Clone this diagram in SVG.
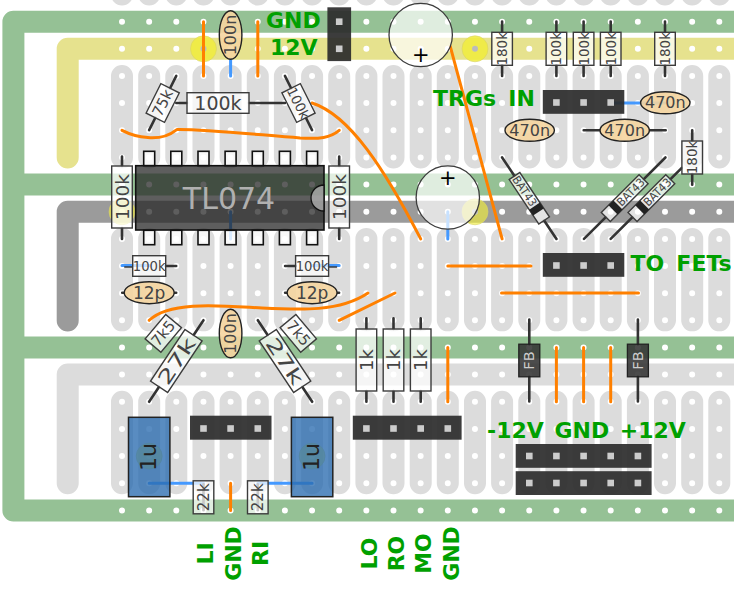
<svg xmlns="http://www.w3.org/2000/svg" width="734" height="589" viewBox="0 0 734 589">
<style>
text{font-family:"DejaVu Sans",Verdana,sans-serif}
.bus{fill:none;stroke-width:22;stroke-linejoin:round;stroke-linecap:round}
.strips line{stroke:#dcdcdc;stroke-width:22;stroke-linecap:round;stroke-dasharray:81.45 81.45}
.holes{stroke:#fff;stroke-width:6;stroke-linecap:round;stroke-dasharray:0 27.15;fill:none}
.disc{fill:#f0ec3c;fill-opacity:.65;stroke:#d8d46a;stroke-width:.6}
.dot{fill:#bbb}
.w{fill:none;stroke-width:3;stroke-linecap:round}
.o{stroke:#ff8000}
.b{stroke:#4499ff}
.lead{fill:none;stroke:#333;stroke-width:2.6;stroke-linecap:round}
.rb{fill:#fff;fill-opacity:.72;stroke:#3c3c3c;stroke-width:1.4}
.rt{fill:#444;text-anchor:middle;dominant-baseline:central}
.cer{fill:#f5d5a0;fill-opacity:.9;stroke:#222;stroke-width:1.4}
.elec{fill:#fff;fill-opacity:.7;stroke:#3c3c3c;stroke-width:1.3}
.film{fill:#2a6cb0;fill-opacity:.78;stroke:#222;stroke-width:1.5}
.fb{fill:#333;fill-opacity:.88;stroke:#222;stroke-width:1.3}
.hdr{fill:#2b2b2b;fill-opacity:.92}
.pin{fill:#ccc}
.lab{fill:#00a000;font-weight:bold;font-size:22px;word-spacing:4.5px}
.labv{text-anchor:middle}
</style>
<defs>
<rect id="p" class="pin" x="-3.3" y="-3.3" width="6.6" height="6.6"/>
<rect id="dip" x="-5.5" y="-7.2" width="11" height="14.4" fill="#fff" fill-opacity=".8" stroke="#111" stroke-width="1.6"/>
</defs>
<rect width="734" height="589" fill="#fff"/>
<g id="board">
<path class="bus" stroke="#e6e28e" d="M745 48.8H67.7V157.5"/>
<path class="bus" stroke="#9b9b9b" d="M745 211.8H67.7V320.4"/>
<path class="bus" stroke="#dcdcdc" d="M745 374.6H67.7V483.2"/>
<path class="bus" stroke="#95c195" d="M745 21.7H13.4V510.4H745M13.4 184.6H745M13.4 347.5H745"/>
<g class="strips">
<line x1="122" x2="122" y1="-86.9" y2="483.3"/><line x1="149.2" x2="149.2" y1="-86.9" y2="483.3"/><line x1="176.3" x2="176.3" y1="-86.9" y2="483.3"/><line x1="203.5" x2="203.5" y1="-86.9" y2="483.3"/><line x1="230.6" x2="230.6" y1="-86.9" y2="483.3"/><line x1="257.8" x2="257.8" y1="-86.9" y2="483.3"/><line x1="284.9" x2="284.9" y1="-86.9" y2="483.3"/><line x1="312.1" x2="312.1" y1="-86.9" y2="483.3"/><line x1="339.2" x2="339.2" y1="-86.9" y2="483.3"/><line x1="366.4" x2="366.4" y1="-86.9" y2="483.3"/><line x1="393.5" x2="393.5" y1="-86.9" y2="483.3"/><line x1="420.7" x2="420.7" y1="-86.9" y2="483.3"/><line x1="447.8" x2="447.8" y1="-86.9" y2="483.3"/><line x1="475" x2="475" y1="-86.9" y2="483.3"/><line x1="502.1" x2="502.1" y1="-86.9" y2="483.3"/><line x1="529.3" x2="529.3" y1="-86.9" y2="483.3"/><line x1="556.4" x2="556.4" y1="-86.9" y2="483.3"/><line x1="583.6" x2="583.6" y1="-86.9" y2="483.3"/><line x1="610.7" x2="610.7" y1="-86.9" y2="483.3"/><line x1="637.9" x2="637.9" y1="-86.9" y2="483.3"/><line x1="665" x2="665" y1="-86.9" y2="483.3"/><line x1="692.2" x2="692.2" y1="-86.9" y2="483.3"/><line x1="719.3" x2="719.3" y1="-86.9" y2="483.3"/>
</g>
<path class="holes" d="M122 21.7H720M122 48.8H720M122 76H720M122 103H720M122 130.3H720M122 157.5H720M122 184.6H720M122 211.8H720M122 238.9H720M122 266H720M122 293.2H720M122 320.3H720M122 347.5H720M122 374.6H720M122 401.8H720M122 428.9H720M122 456.1H720M122 483.2H720M122 510.4H720"/>
<circle class="disc" cx="203.5" cy="48.8" r="13" style="fill-opacity:.85"/><circle class="dot" cx="203.5" cy="48.8" r="3"/>
<circle class="disc" cx="475" cy="48.8" r="13" style="fill-opacity:.85"/><circle class="dot" cx="475" cy="48.8" r="3"/>
<circle class="disc" cx="122" cy="211.8" r="13"/>
<circle class="disc" cx="475" cy="211.8" r="13"/><circle class="dot" cx="475" cy="211.8" r="3"/>
<circle class="disc" cx="149.2" cy="456.1" r="13"/>
<circle class="disc" cx="312.1" cy="456.1" r="13"/>
</g>
<g id="connectors">
<path class="w o" d="M203.5 21.7V76M257.8 21.7V76M447.8 347.5V401.8M556.4 347.5V401.8M583.6 347.5V401.8M610.7 347.5V401.8M230.6 483.2V510.4"/>
<path class="w o" d="M122 130.3C135 137 160 143 175.7 130.3"/>
<path class="w o" d="M177 129.5C205 129 260 135 300 138C320 139 330 138 339.2 130.3"/>
<path class="w o" d="M312 103C350 115 385 170 420.7 238.9"/>
<path class="w o" d="M450.3 46.7L502.1 238.9"/>
<path class="w o" d="M447.8 266H531M501.5 293H638.5"/>
<path class="w o" d="M149.2 320.3C170 300 225 306 262 308C300 310 340 312 368 293"/>
<path class="w o" d="M339.2 320.3L395 293"/>
<path class="w b" d="M230.6 59V76M230.6 211.8V238.9M447.8 211.8V238.9M122 265.5H149.2M312.1 265.5H339.2M610.7 103H665M149.2 483.2H203.5M257.8 483.2H312.1"/>
</g>
<g id="cap-top"><circle class="elec" cx="420.7" cy="35" r="31.7"/><text x="420.7" y="62" font-size="21" text-anchor="middle">+</text></g>
<g id="cap-mid"><circle class="elec" cx="447.8" cy="197.5" r="31.7"/><text x="447.8" y="185" font-size="21" text-anchor="middle">+</text></g>
<g id="c100n-top" transform="translate(230.6 35) rotate(-90)"><ellipse class="cer" rx="24.3" ry="11.3"/><text class="rt" font-size="16">100n</text></g>
<g id="c100n-low" transform="translate(230.6 333.5) rotate(-90)"><ellipse class="cer" rx="24.3" ry="11.3"/><text class="rt" font-size="16">100n</text></g>
<g id="c12p-l" transform="translate(149.2 292.7)"><path class="lead" d="M-27 0H-25M25 0H27"/><ellipse class="cer" rx="25" ry="11"/><text class="rt" font-size="17">12p</text></g>
<g id="c12p-r" transform="translate(312.1 292.7)"><path class="lead" d="M-27 0H-25M25 0H27"/><ellipse class="cer" rx="25" ry="11"/><text class="rt" font-size="17">12p</text></g>
<g id="c470n-a" transform="translate(665.3 102.8)"><ellipse class="cer" rx="24.7" ry="11"/><text class="rt" font-size="16">470n</text></g>
<g id="c470n-b" transform="translate(529.7 130.3)"><ellipse class="cer" rx="24.7" ry="11"/><text class="rt" font-size="16">470n</text></g>
<g id="c470n-c" transform="translate(624.7 130.3)"><path class="lead" d="M-41 0H-24.7M24.7 0H41"/><ellipse class="cer" rx="24.7" ry="11"/><text class="rt" font-size="16">470n</text></g>
<g id="ic-tl074">
<use href="#dip" x="149.2" y="158.5"/><use href="#dip" x="176.3" y="158.5"/><use href="#dip" x="203.5" y="158.5"/><use href="#dip" x="230.6" y="158.5"/><use href="#dip" x="257.8" y="158.5"/><use href="#dip" x="284.9" y="158.5"/><use href="#dip" x="312.1" y="158.5"/>
<use href="#dip" x="149.2" y="237.5"/><use href="#dip" x="176.3" y="237.5"/><use href="#dip" x="203.5" y="237.5"/><use href="#dip" x="230.6" y="237.5"/><use href="#dip" x="257.8" y="237.5"/><use href="#dip" x="284.9" y="237.5"/><use href="#dip" x="312.1" y="237.5"/>
<rect x="135.7" y="165.7" width="188.3" height="64.3" fill="#262626" fill-opacity=".74" stroke="#111" stroke-width="1.6"/>
<path d="M324 185A13 13 0 0 0 324 211Z" fill="#b5b5b5" fill-opacity=".75" stroke="#111" stroke-width="1.3"/>
<text x="229" y="208.7" font-size="30" fill="#b0b0b0" text-anchor="middle">TL074</text>
</g>
<g id="r75k" transform="translate(162.7 103) rotate(-63.4)"><path class="lead" d="M-30.3 0H-16.5M16.5 0H30.3"/><rect class="rb" x="-16.5" y="-10.3" width="33" height="20.6"/><text class="rt" font-size="15">75k</text></g>
<g id="r100k-h" transform="translate(218 103)"><path class="lead" d="M-41.7 0H-31M31 0H67"/><rect class="rb" x="-31" y="-10.3" width="62" height="20.6"/><text class="rt" font-size="19">100k</text></g>
<g id="r100k-d" transform="translate(298.5 103) rotate(63.4)"><path class="lead" d="M-30.3 0H-16.5M16.5 0H30.3"/><rect class="rb" x="-16.5" y="-10.3" width="33" height="20.6"/><text class="rt" font-size="13.5">100k</text></g>
<g id="r100k-vl" transform="translate(122 197) rotate(-90)"><path class="lead" d="M-42 0H-31M31 0H40.5"/><rect class="rb" x="-31" y="-10.3" width="62" height="20.6"/><text class="rt" font-size="18.5">100k</text></g>
<g id="r100k-vr" transform="translate(339.2 197) rotate(-90)"><path class="lead" d="M-42 0H-31M31 0H40.5"/><rect class="rb" x="-31" y="-10.3" width="62" height="20.6"/><text class="rt" font-size="18.5">100k</text></g>
<g id="r100k-sl" transform="translate(149.2 266)"><path class="lead" d="M16.5 0H27"/><path d="M-25 1H-16.5" stroke="#333" stroke-width="1.4"/><rect class="rb" x="-16.5" y="-10.3" width="33" height="20.6"/><text class="rt" font-size="13.2">100k</text></g>
<g id="r100k-sr" transform="translate(312.1 266)"><path class="lead" d="M-27 0H-16.5"/><path d="M16.5 1H25" stroke="#333" stroke-width="1.4"/><rect class="rb" x="-16.5" y="-10.3" width="33" height="20.6"/><text class="rt" font-size="13.2">100k</text></g>
<g id="r180k-a" transform="translate(502.1 48.8) rotate(-90)"><path class="lead" d="M-27.2 0H-16.5M16.5 0H27.2"/><rect class="rb" x="-16.5" y="-10.3" width="33" height="20.6"/><text class="rt" font-size="13.5">180k</text></g>
<g id="r100k-a" transform="translate(556.4 48.8) rotate(-90)"><path class="lead" d="M-27.2 0H-16.5M16.5 0H27.2"/><rect class="rb" x="-16.5" y="-10.3" width="33" height="20.6"/><text class="rt" font-size="13.5">100k</text></g>
<g id="r100k-b" transform="translate(583.6 48.8) rotate(-90)"><path class="lead" d="M-27.2 0H-16.5M16.5 0H27.2"/><rect class="rb" x="-16.5" y="-10.3" width="33" height="20.6"/><text class="rt" font-size="13.5">100k</text></g>
<g id="r100k-c" transform="translate(610.7 48.8) rotate(-90)"><path class="lead" d="M-27.2 0H-16.5M16.5 0H27.2"/><rect class="rb" x="-16.5" y="-10.3" width="33" height="20.6"/><text class="rt" font-size="13.5">100k</text></g>
<g id="r180k-b" transform="translate(665 48.8) rotate(-90)"><path class="lead" d="M-27.2 0H-16.5M16.5 0H27.2"/><rect class="rb" x="-16.5" y="-10.3" width="33" height="20.6"/><text class="rt" font-size="13.5">180k</text></g>
<g id="d-bat-a" transform="translate(529.3 198.2) rotate(56.3)"><path class="lead" d="M-49 0H-26.7M26.7 0H49" stroke-width="2.4"/><rect class="rb" x="-26.7" y="-6.4" width="53.4" height="12.8"/><rect x="9.5" y="-6.4" width="7" height="12.8" fill="#222"/><text class="rt" x="-8.5" font-size="11.5" textLength="34" lengthAdjust="spacingAndGlyphs">BAT43</text></g>
<g id="d-bat-b" transform="translate(624.7 198.2) rotate(-45)"><path class="lead" d="M-57.6 0H-26.7M26.7 0H57.6" stroke-width="2.4"/><rect class="rb" x="-26.7" y="-6.4" width="53.4" height="12.8"/><rect x="-16.5" y="-6.4" width="7" height="12.8" fill="#222"/><text class="rt" x="8.5" font-size="11.5" textLength="34" lengthAdjust="spacingAndGlyphs">BAT43</text></g>
<g id="d-bat-c" transform="translate(651.4 198.2) rotate(-45)"><path class="lead" d="M-57.6 0H-26.7M26.7 0H43" stroke-width="2.4"/><rect class="rb" x="-26.7" y="-6.4" width="53.4" height="12.8"/><rect x="-16.5" y="-6.4" width="7" height="12.8" fill="#222"/><text class="rt" x="8.5" font-size="11.5" textLength="34" lengthAdjust="spacingAndGlyphs">BAT43</text></g>
<g id="r180k-c" transform="translate(692.2 157.5) rotate(-90)"><path class="lead" d="M-27.2 0H-16.5M16.5 0H27.2"/><rect class="rb" x="-16.5" y="-10.3" width="33" height="20.6"/><text class="rt" font-size="13.5">180k</text></g>
<g id="r7k5-l" transform="translate(163.3 333.3) rotate(-50)"><rect class="rb" x="-16" y="-10.3" width="32" height="20.6"/><text class="rt" font-size="15">7k5</text></g>
<g id="r7k5-r" transform="translate(298.3 333.3) rotate(50)"><rect class="rb" x="-16" y="-10.3" width="32" height="20.6"/><text class="rt" font-size="15">7k5</text></g>
<g id="r27k-l" transform="translate(176.3 361) rotate(-56.3)"><path class="lead" d="M-49 0H-31M31 0H49"/><rect class="rb" x="-31" y="-10.3" width="62" height="20.6"/><text class="rt" font-size="19" textLength="52" lengthAdjust="spacingAndGlyphs">27k</text></g>
<g id="r27k-r" transform="translate(285 361) rotate(56.3)"><path class="lead" d="M-49 0H-31M31 0H49"/><rect class="rb" x="-31" y="-10.3" width="62" height="20.6"/><text class="rt" font-size="19" textLength="52" lengthAdjust="spacingAndGlyphs">27k</text></g>
<g id="c1u-l" transform="translate(149.2 457) rotate(-90)"><rect class="film" x="-39.7" y="-20.7" width="79.4" height="41.4"/><text class="rt" font-size="22" y="-1" style="fill:#222">1u</text></g>
<g id="c1u-r" transform="translate(312.1 457) rotate(-90)"><rect class="film" x="-39.7" y="-20.7" width="79.4" height="41.4"/><text class="rt" font-size="22" y="-1" style="fill:#222">1u</text></g>
<g id="r22k-l" transform="translate(203.5 497.3) rotate(-90)"><path class="lead" d="M-13 0H13" stroke-width="1"/><rect class="rb" x="-16.5" y="-10.3" width="33" height="20.6"/><text class="rt" font-size="15">22k</text></g>
<g id="r22k-r" transform="translate(257.8 497.3) rotate(-90)"><path class="lead" d="M-13 0H13" stroke-width="1"/><rect class="rb" x="-16.5" y="-10.3" width="33" height="20.6"/><text class="rt" font-size="15">22k</text></g>
<g id="r1k-a" transform="translate(366.4 360) rotate(-90)"><path class="lead" d="M-41.7 0H-31M31 0H41.7"/><rect class="rb" x="-31" y="-10.3" width="62" height="20.6"/><text class="rt" font-size="18">1k</text></g>
<g id="r1k-b" transform="translate(393.5 360) rotate(-90)"><path class="lead" d="M-41.7 0H-31M31 0H41.7"/><rect class="rb" x="-31" y="-10.3" width="62" height="20.6"/><text class="rt" font-size="18">1k</text></g>
<g id="r1k-c" transform="translate(420.7 360) rotate(-90)"><path class="lead" d="M-41.7 0H-31M31 0H41.7"/><rect class="rb" x="-31" y="-10.3" width="62" height="20.6"/><text class="rt" font-size="18">1k</text></g>
<g id="fb-a" transform="translate(529.3 360.5) rotate(-90)"><path class="lead" d="M-41 0H-16.3M16.3 0H41"/><rect class="fb" x="-16.3" y="-10.5" width="32.6" height="21"/><text class="rt" font-size="14.5" style="fill:#ccc">FB</text></g>
<g id="fb-b" transform="translate(637.9 360.5) rotate(-90)"><path class="lead" d="M-41 0H-16.3M16.3 0H41"/><rect class="fb" x="-16.3" y="-10.5" width="32.6" height="21"/><text class="rt" font-size="14.5" style="fill:#ccc">FB</text></g>
<g id="hdr-power"><rect class="hdr" x="327.4" y="7.3" width="23.7" height="53.8"/><use href="#p" x="339.2" y="21.7"/><use href="#p" x="339.2" y="48.8"/></g>
<g id="hdr-trg"><rect class="hdr" x="542.8" y="90" width="81.5" height="23.8"/><use href="#p" x="556.4" y="102.5"/><use href="#p" x="583.6" y="102.5"/><use href="#p" x="610.7" y="102.5"/></g>
<g id="hdr-fets"><rect class="hdr" x="542.8" y="253" width="81.5" height="23.8"/><use href="#p" x="556.4" y="265.5"/><use href="#p" x="583.6" y="265.5"/><use href="#p" x="610.7" y="265.5"/></g>
<g id="hdr-in"><rect class="hdr" x="190" y="415.7" width="81.5" height="24"/><use href="#p" x="203.5" y="428.5"/><use href="#p" x="230.6" y="428.5"/><use href="#p" x="257.8" y="428.5"/></g>
<g id="hdr-out"><rect class="hdr" x="352.8" y="415.7" width="108.8" height="24"/><use href="#p" x="366.4" y="428.5"/><use href="#p" x="393.5" y="428.5"/><use href="#p" x="420.7" y="428.5"/><use href="#p" x="447.8" y="428.5"/></g>
<g id="hdr-pwr-a"><rect class="hdr" x="515.7" y="444" width="135.9" height="23.8"/><use href="#p" x="529.3" y="456"/><use href="#p" x="556.4" y="456"/><use href="#p" x="583.6" y="456"/><use href="#p" x="610.7" y="456"/><use href="#p" x="637.9" y="456"/></g>
<g id="hdr-pwr-b"><rect class="hdr" x="515.7" y="471.2" width="135.9" height="23.8"/><use href="#p" x="529.3" y="483"/><use href="#p" x="556.4" y="483"/><use href="#p" x="583.6" y="483"/><use href="#p" x="610.7" y="483"/><use href="#p" x="637.9" y="483"/></g>
<g id="labels">
<text class="lab" x="266" y="28.3">GND</text>
<text class="lab" x="270" y="55.3">12V</text>
<text class="lab" x="433" y="106">TRGs IN</text>
<text class="lab" x="630.5" y="271">TO FETs</text>
<text class="lab" x="487" y="437.5" style="word-spacing:3px">-12V GND +12V</text>
<text class="lab labv" transform="translate(212.7 553.5) rotate(-90)">LI</text>
<text class="lab labv" transform="translate(240.7 553.5) rotate(-90)">GND</text>
<text class="lab labv" transform="translate(268 553.5) rotate(-90)">RI</text>
<text class="lab labv" transform="translate(377 553.5) rotate(-90)">LO</text>
<text class="lab labv" transform="translate(404.3 553.5) rotate(-90)">RO</text>
<text class="lab labv" transform="translate(431.3 553.5) rotate(-90)">MO</text>
<text class="lab labv" transform="translate(458.7 553.5) rotate(-90)">GND</text>
</g>
</svg>
